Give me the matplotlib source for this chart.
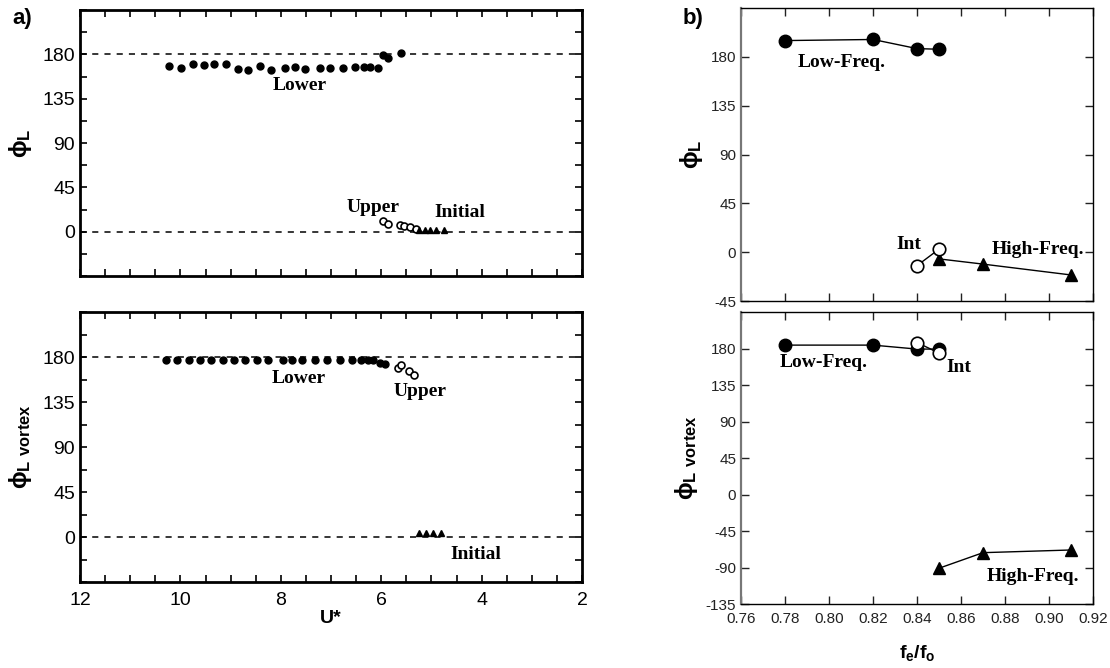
import matplotlib.pyplot as plt
from matplotlib.ticker import MultipleLocator

plt.rcParams['font.family'] = ['Liberation Sans', 'DejaVu Sans']
plt.rcParams['mathtext.fontset'] = 'custom'
plt.rcParams['mathtext.rm'] = 'Liberation Sans'
plt.rcParams['mathtext.bf'] = 'Liberation Sans:bold'
plt.rcParams['axes.unicode_minus'] = False

# ---- panel a, top: phi_L vs U* ----
lower_u = [10.22, 9.99, 9.75, 9.54, 9.33, 9.09, 8.85, 8.66, 8.42, 8.19, 7.91, 7.72,
           7.51, 7.22, 7.02, 6.76, 6.52, 6.34, 6.22, 6.07, 5.97, 5.86, 5.61]
lower_phi = [168.1, 166.4, 170.5, 169.4, 170.5, 170.5, 165.4, 163.8, 168.1, 164.1, 166.4, 167.1,
             165.4, 166.4, 166.4, 166.4, 167.1, 167.1, 167.1, 165.8, 179.0, 176.6, 181.0]
upper_u = [5.97, 5.86, 5.62, 5.54, 5.42, 5.31]
upper_phi = [11.2, 7.4, 6.8, 5.8, 4.4, 2.7]
initial_u = [5.25, 5.13, 5.02, 4.90, 4.75]
initial_phi = [1.5, 1.5, 1.5, 1.5, 1.5]

# ---- panel a, bottom: phi_L vortex vs U* ----
lower_u_v = [10.29, 10.07, 9.82, 9.61, 9.39, 9.15, 8.93, 8.71, 8.47, 8.26, 7.95, 7.77,
             7.57, 7.31, 7.09, 6.83, 6.59, 6.40, 6.27, 6.16, 6.03, 5.92]
lower_phi_v = [177, 177, 177, 177, 177.5, 177, 177, 177, 177, 177, 177.5, 177.5,
               177, 177, 177.5, 177, 177, 177, 177, 177, 174.4, 172.7]
upper_u_v = [5.67, 5.60, 5.45, 5.35]
upper_phi_v = [169.4, 171.7, 166.0, 161.7]
initial_u_v = [5.25, 5.11, 4.96, 4.82]
initial_phi_v = [4, 4, 4, 4]

# ---- panel b: phase vs fe/fo ----
low_f = [0.78, 0.82, 0.84, 0.85]
low_phi = [195, 196, 187.6, 187]
int_f = [0.84, 0.85]
int_phi = [-12.4, 2.8]
high_f = [0.85, 0.87, 0.91]
high_phi = [-6.2, -11, -21]

low_phi_v = [184.2, 184.2, 179.3, 179.3]
int_phi_v = [187.4, 174.4]
high_phi_v = [-90.9, -71.7, -68.4]

fig = plt.figure(figsize=(11.1, 6.68), dpi=100)

ax1 = fig.add_axes([0.0721, 0.5868, 0.4523, 0.398])
ax2 = fig.add_axes([0.0721, 0.1287, 0.4523, 0.4042])
ax3 = fig.add_axes([0.6676, 0.5494, 0.3171, 0.4386])
ax4 = fig.add_axes([0.6676, 0.0958, 0.3171, 0.4371])

lab_font = dict(family='Liberation Serif', fontweight='bold', fontsize=14)

for ax in (ax1, ax2):
    ax.axhline(180, color='black', ls=(0, (4, 4)), lw=1.1, zorder=1)
    ax.axhline(0, color='black', ls=(0, (4, 4)), lw=1.1, zorder=1)
    ax.set_xlim(12, 2)
    ax.set_ylim(-45, 225)
    ax.xaxis.set_major_locator(MultipleLocator(2))
    ax.xaxis.set_minor_locator(MultipleLocator(0.5))
    ax.set_yticks([0, 45, 90, 135, 180])
    ax.yaxis.set_minor_locator(MultipleLocator(22.5))
    ax.tick_params(which='both', direction='in', top=True, right=True, length=5, width=1.2,
                   labelsize=14)
    ax.tick_params(axis='x', pad=7)
    for s in ax.spines.values():
        s.set_linewidth(2)

ax1.tick_params(labelbottom=False)

ax1.plot(lower_u, lower_phi, 'o', color='black', ms=5, zorder=3)
ax1.plot(upper_u, upper_phi, 'o', mfc='white', mec='black', mew=1.2, ms=5, zorder=3)
ax1.plot(initial_u, initial_phi, '^', color='black', ms=5, zorder=3)
ax1.text(7.62, 148, 'Lower', ha='center', va='center', **lab_font)
ax1.text(6.16, 25, 'Upper', ha='center', va='center', **lab_font)
ax1.text(4.44, 20, 'Initial', ha='center', va='center', **lab_font)
ax1.set_ylabel(r'$\mathbf{\phi_L}$', fontsize=17, labelpad=6)

ax2.plot(lower_u_v, lower_phi_v, 'o', color='black', ms=5, zorder=3)
ax2.plot(upper_u_v, upper_phi_v, 'o', mfc='white', mec='black', mew=1.2, ms=5, zorder=3)
ax2.plot(initial_u_v, initial_phi_v, '^', color='black', ms=5, zorder=3)
ax2.text(7.64, 159, 'Lower', ha='center', va='center', **lab_font)
ax2.text(5.23, 146, 'Upper', ha='center', va='center', **lab_font)
ax2.text(4.12, -17, 'Initial', ha='center', va='center', **lab_font)
ax2.set_ylabel(r'$\mathbf{\phi_{L\ vortex}}$', fontsize=17, labelpad=6)
ax2.set_xlabel('U*', fontsize=14, fontweight='bold', labelpad=1)

for ax in (ax3, ax4):
    ax.set_xlim(0.76, 0.92)
    ax.set_xticks([0.76, 0.78, 0.80, 0.82, 0.84, 0.86, 0.88, 0.90, 0.92])
    ax.tick_params(direction='in', top=True, right=True, length=6, width=1, labelsize=11,
                   colors='#222222')
    ax.tick_params(axis='x', pad=6)
    for s in ax.spines.values():
        s.set_linewidth(1)
    ax.spines['left'].set_color('#777777')
    ax.spines['left'].set_linewidth(1.6)

ax3.set_ylim(-45, 225)
ax3.set_yticks([-45, 0, 45, 90, 135, 180])
ax3.tick_params(labelbottom=False)
ax3.plot(low_f, low_phi, '-o', color='black', lw=1, ms=9, zorder=3)
ax3.plot(high_f, high_phi, '-^', color='black', lw=1, ms=9, zorder=3)
ax3.plot(int_f, int_phi, '-o', color='black', mfc='white', mew=1.2, lw=1, ms=9, zorder=4)
ax3.text(0.8058, 174.5, 'Low-Freq.', ha='center', va='center', **lab_font)
ax3.text(0.8365, 7, 'Int', ha='center', va='center', **lab_font)
ax3.text(0.895, 2, 'High-Freq.', ha='center', va='center', clip_on=False, **lab_font)
ax3.set_ylabel(r'$\mathbf{\phi_L}$', fontsize=17, labelpad=4)

ax4.set_ylim(-135, 225)
ax4.set_yticks([-135, -90, -45, 0, 45, 90, 135, 180])
ax4.plot(low_f, low_phi_v, '-o', color='black', lw=1, ms=9, zorder=3)
ax4.plot(int_f, int_phi_v, '-o', color='black', mfc='white', mew=1.2, lw=1, ms=9, zorder=4)
ax4.plot(high_f, high_phi_v, '-^', color='black', lw=1, ms=9, zorder=3)
ax4.text(0.7974, 163, 'Low-Freq.', ha='center', va='center', **lab_font)
ax4.text(0.8588, 157, 'Int', ha='center', va='center', **lab_font)
ax4.text(0.8928, -101, 'High-Freq.', ha='center', va='center', **lab_font)
ax4.set_ylabel(r'$\mathbf{\phi_{L\ vortex}}$', fontsize=17, labelpad=4)
ax4.set_xlabel(r'$\mathbf{f_e/f_o}$', fontsize=14, labelpad=12)

fig.text(0.011, 0.973, 'a)', fontsize=16, fontweight='bold', va='center')
fig.text(0.615, 0.973, 'b)', fontsize=16, fontweight='bold', va='center')

fig.savefig('out.png', dpi=100)
